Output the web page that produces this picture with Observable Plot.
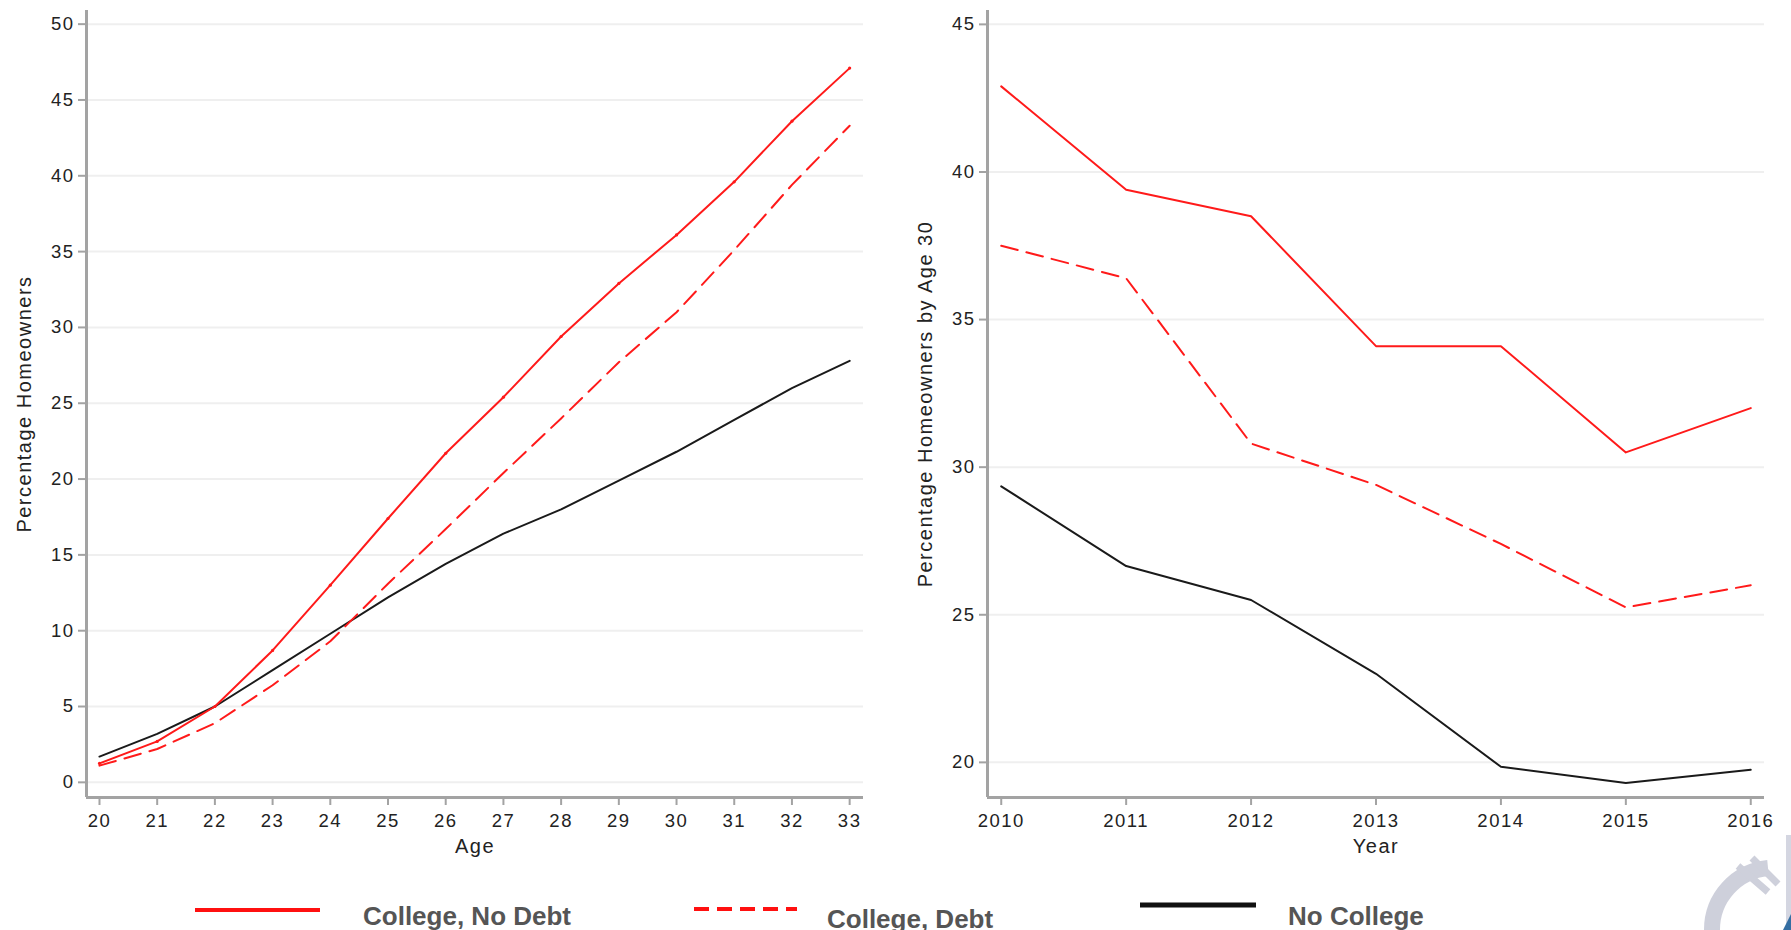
<!DOCTYPE html>
<html><head><meta charset="utf-8">
<script src="https://cdn.jsdelivr.net/npm/d3@7"></script>
<script src="https://cdn.jsdelivr.net/npm/@observablehq/plot@0.6"></script>
<style>
html,body{margin:0;padding:0;background:#fff}
body{width:1791px;height:930px;overflow:hidden;position:relative;font-family:"Liberation Sans",Arial,Helvetica,sans-serif}
#left{position:absolute;left:0;top:0}
#right{position:absolute;left:895px;top:0}
svg text{letter-spacing:1.5px}
g[aria-label$="tick label"]{letter-spacing:2.5px}
.lg{position:absolute;font-weight:bold;font-size:26px;line-height:26px;color:#555;white-space:nowrap}
#sw{position:absolute;left:0;top:0}
</style></head><body>
<div id="left"></div><div id="right"></div>
<svg id="sw" width="1791" height="930"></svg>
<div class="lg" style="left:363px;top:903px">College, No Debt</div>
<div class="lg" style="left:827px;top:906px">College, Debt</div>
<div class="lg" style="left:1288px;top:903px">No College</div>
<script>
// ---- data ----
const ages = [20,21,22,23,24,25,26,27,28,29,30,31,32,33];
const collegeNoDebtAge = [1.25,2.7,5.0,8.7,13.0,17.4,21.7,25.4,29.4,32.9,36.1,39.6,43.6,47.1];
const collegeDebtAge   = [1.1,2.2,3.9,6.4,9.3,13.1,16.7,20.4,24.0,27.7,31.0,35.1,39.4,43.3];
const noCollegeAge     = [1.7,3.2,5.0,7.4,9.8,12.2,14.4,16.4,18.0,19.9,21.8,23.9,26.0,27.8];

const years = [2010,2011,2012,2013,2014,2015,2016];
const collegeNoDebtYear = [42.9,39.4,38.5,34.1,34.1,30.5,32.0];
const collegeDebtYear   = [37.5,36.4,30.8,29.4,27.4,25.25,26.0];
const noCollegeYear     = [29.35,26.65,25.5,23.0,19.85,19.3,19.75];

const seriesNames = ["College, No Debt","College, Debt","No College"];
const ageTicks = ages;
const ageYTicks = [0,5,10,15,20,25,30,35,40,45,50];
const yearYTicks = [20,25,30,35,40,45];

const RED = "#ff1a1a", BLACK = "#1a1a1a", AXIS = "#a3a3a3", GRID = "#efefef";

function rows(xs, ys){ return xs.map((x,i)=>({x, y: ys[i]})); }

function panel({xs, series, xDomain, yDomain, xTicks, yTicks, width, marginLeft, marginRight, xLabel, yLabel, dots}){
  const [noDebt, debt, noCol] = series.map(s => rows(xs, s));
  return Plot.plot({
    width, height: 860,
    marginLeft, marginRight, marginTop: 10, marginBottom: 63,
    style: {fontFamily: '"Liberation Sans",Arial,sans-serif', fontSize: "18.5px", color: "#222", background: "transparent", overflow: "visible"},
    x: {domain: xDomain},
    y: {domain: yDomain},
    marks: [
      Plot.gridY({ticks: yTicks, stroke: GRID, strokeOpacity: 1, strokeWidth: 2}),
      Plot.ruleX([xDomain[0]], {stroke: AXIS, strokeWidth: 3}),
      Plot.ruleY([yDomain[0]], {stroke: AXIS, strokeWidth: 3}),
      Plot.axisY({ticks: yTicks, tickSize: 8, tickPadding: 4, stroke: AXIS, strokeWidth: 2, label: null, fontSize: 18.5}),
      Plot.axisX({ticks: xTicks, tickSize: 8, tickPadding: 8, stroke: AXIS, strokeWidth: 2, label: null, fontSize: 18.5, tickFormat: d => String(d)}),
      Plot.line(noCol, {x: "x", y: "y", stroke: BLACK, strokeWidth: 2}),
      Plot.line(debt, {x: "x", y: "y", stroke: RED, strokeWidth: 2, strokeDasharray: "17,9"}),
      Plot.line(noDebt, {x: "x", y: "y", stroke: RED, strokeWidth: 2}),
      ...(dots ? [Plot.dot(noDebt, {x: "x", y: "y", r: 1.6, fill: RED, stroke: null})] : []),
      Plot.text([xLabel], {text: d => d, frameAnchor: "bottom", dy: 55, fontSize: 20, fill: "#222"}),
      Plot.text([yLabel], {text: d => d, frameAnchor: "left", textAnchor: "middle", dx: -62, rotate: -90, fontSize: 20, fill: "#222"})
    ]
  });
}

document.getElementById("left").append(panel({
  xs: ages, series: [collegeNoDebtAge, collegeDebtAge, noCollegeAge],
  xDomain: [19.775, 33.24], yDomain: [-1, 50.9],
  xTicks: ageTicks, yTicks: ageYTicks,
  width: 895, marginLeft: 86, marginRight: 32,
  xLabel: "Age", yLabel: "Percentage Homeowners", dots: true
}));

document.getElementById("right").append(panel({
  xs: years, series: [collegeNoDebtYear, collegeDebtYear, noCollegeYear],
  xDomain: [2009.89, 2016.11], yDomain: [18.81, 45.47],
  xTicks: years, yTicks: yearYTicks,
  width: 896, marginLeft: 92, marginRight: 27,
  xLabel: "Year", yLabel: "Percentage Homeowners by Age 30", dots: false
}));

// ---- legend swatches and corner logo fragment ----
const sw = d3.select("#sw");
const legendStyles = [
  {x1: 195, x2: 320, y: 910, stroke: "#ff1010", w: 4, dash: null},
  {x1: 694, x2: 797, y: 909, stroke: "#ff1010", w: 4, dash: "15,8"},
  {x1: 1140, x2: 1256, y: 905, stroke: "#111", w: 5, dash: null}
];
legendStyles.forEach((s, i) => {
  sw.append("line").attr("x1", s.x1).attr("x2", s.x2).attr("y1", s.y).attr("y2", s.y)
    .attr("stroke", s.stroke).attr("stroke-width", s.w).attr("stroke-dasharray", s.dash)
    .append("title").text(seriesNames[i]);
});
const logo = sw.append("g").attr("opacity", 0.9);
logo.append("path").attr("d", "M1712,930 A62,62 0 0 1 1768,868").attr("fill", "none").attr("stroke", "#c9cbd8").attr("stroke-width", 16);
logo.append("path").attr("d", "M1738,866 L1768,892 M1752,858 L1778,884").attr("stroke", "#c9cbd8").attr("stroke-width", 7);
logo.append("rect").attr("x", 1786).attr("y", 835).attr("width", 5).attr("height", 95).attr("fill", "#d0d2de");
logo.append("path").attr("d", "M1783,930 L1791,914 L1791,930 Z").attr("fill", "#1f5f99");
</script>
</body></html>
